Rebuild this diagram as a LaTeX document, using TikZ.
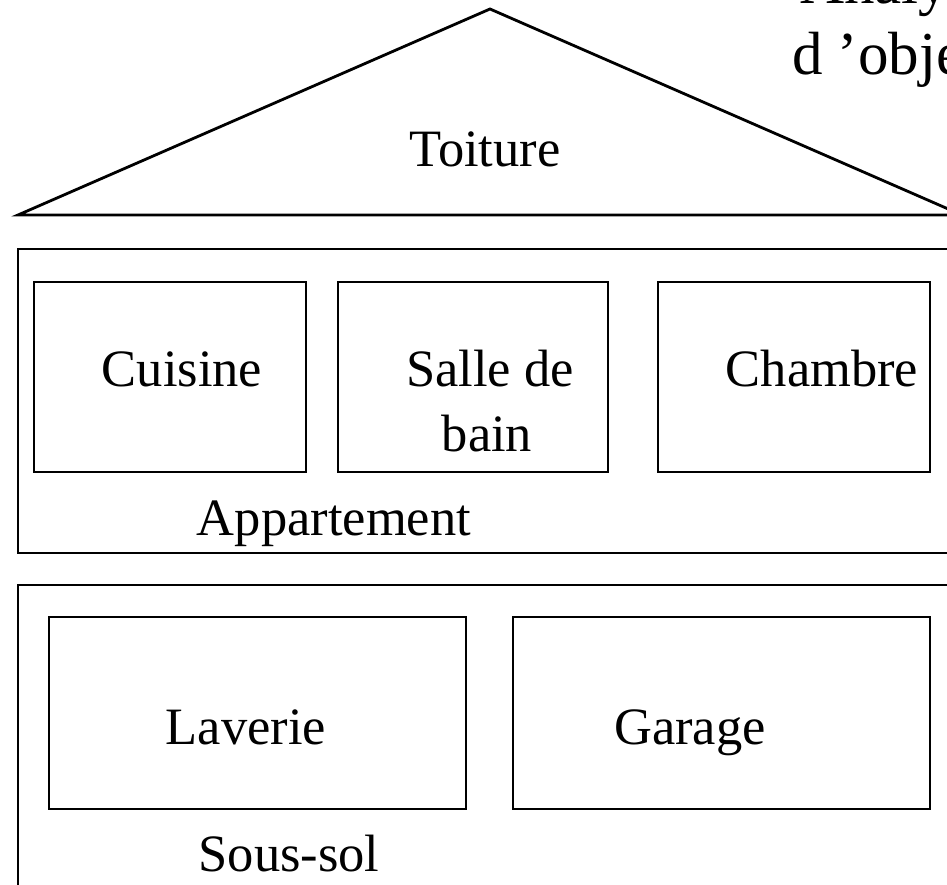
\documentclass[tikz,border=0pt]{standalone}
\usepackage{fontspec}
\setmainfont{Liberation Serif}
\begin{document}
\begin{tikzpicture}[x=1pt,y=-1pt,
  wall/.style={draw=black,line width=2.8pt},
  lbl/.style={anchor=base,inner sep=0pt,font=\fontsize{52.5}{62}\selectfont},
  ttl/.style={anchor=base west,inner sep=0pt,font=\fontsize{61}{72}\selectfont}]
\useasboundingbox (0,0) rectangle (947,885);
\clip (0,0) rectangle (947,885);
\fill[white] (0,0) rectangle (947,885);
% roof
\draw[wall,line join=miter] (18,215) -- (490,9) -- (962,215) -- cycle;
\node[lbl] (toit) at (485,167) {Toiture};
% appartement
\draw[wall] (18,249) rectangle (980,553);
\draw[wall] (34,282) rectangle (306,472);
\draw[wall] (338,282) rectangle (608,472);
\draw[wall] (658,282) rectangle (930,472);
\node[lbl] (cuis) at (182,386) {Cuisine};
\node[lbl] (salle1) at (490,386) {Salle de};
\node[lbl] (salle2) at (487,451) {bain};
\node[lbl] (cham) at (822,386) {Chambre};
\node[lbl] (appt) at (334,535) {Appartement};
% sous-sol
\draw[wall] (18,585) rectangle (980,920);
\draw[wall] (49,617) rectangle (466,809);
\draw[wall] (513,617) rectangle (930,809);
\node[lbl] (lav) at (246,744) {Laverie};
\node[lbl] (gar) at (690,744) {Garage};
\node[lbl] (ss) at (289,871) {Sous-sol};
% title (cropped at the edge, as in the reference)
\node[ttl] (t1) at (800,4) {Analyse};
\node[ttl] (t2) at (792,75) {d 'objets};
\end{tikzpicture}
\end{document}
